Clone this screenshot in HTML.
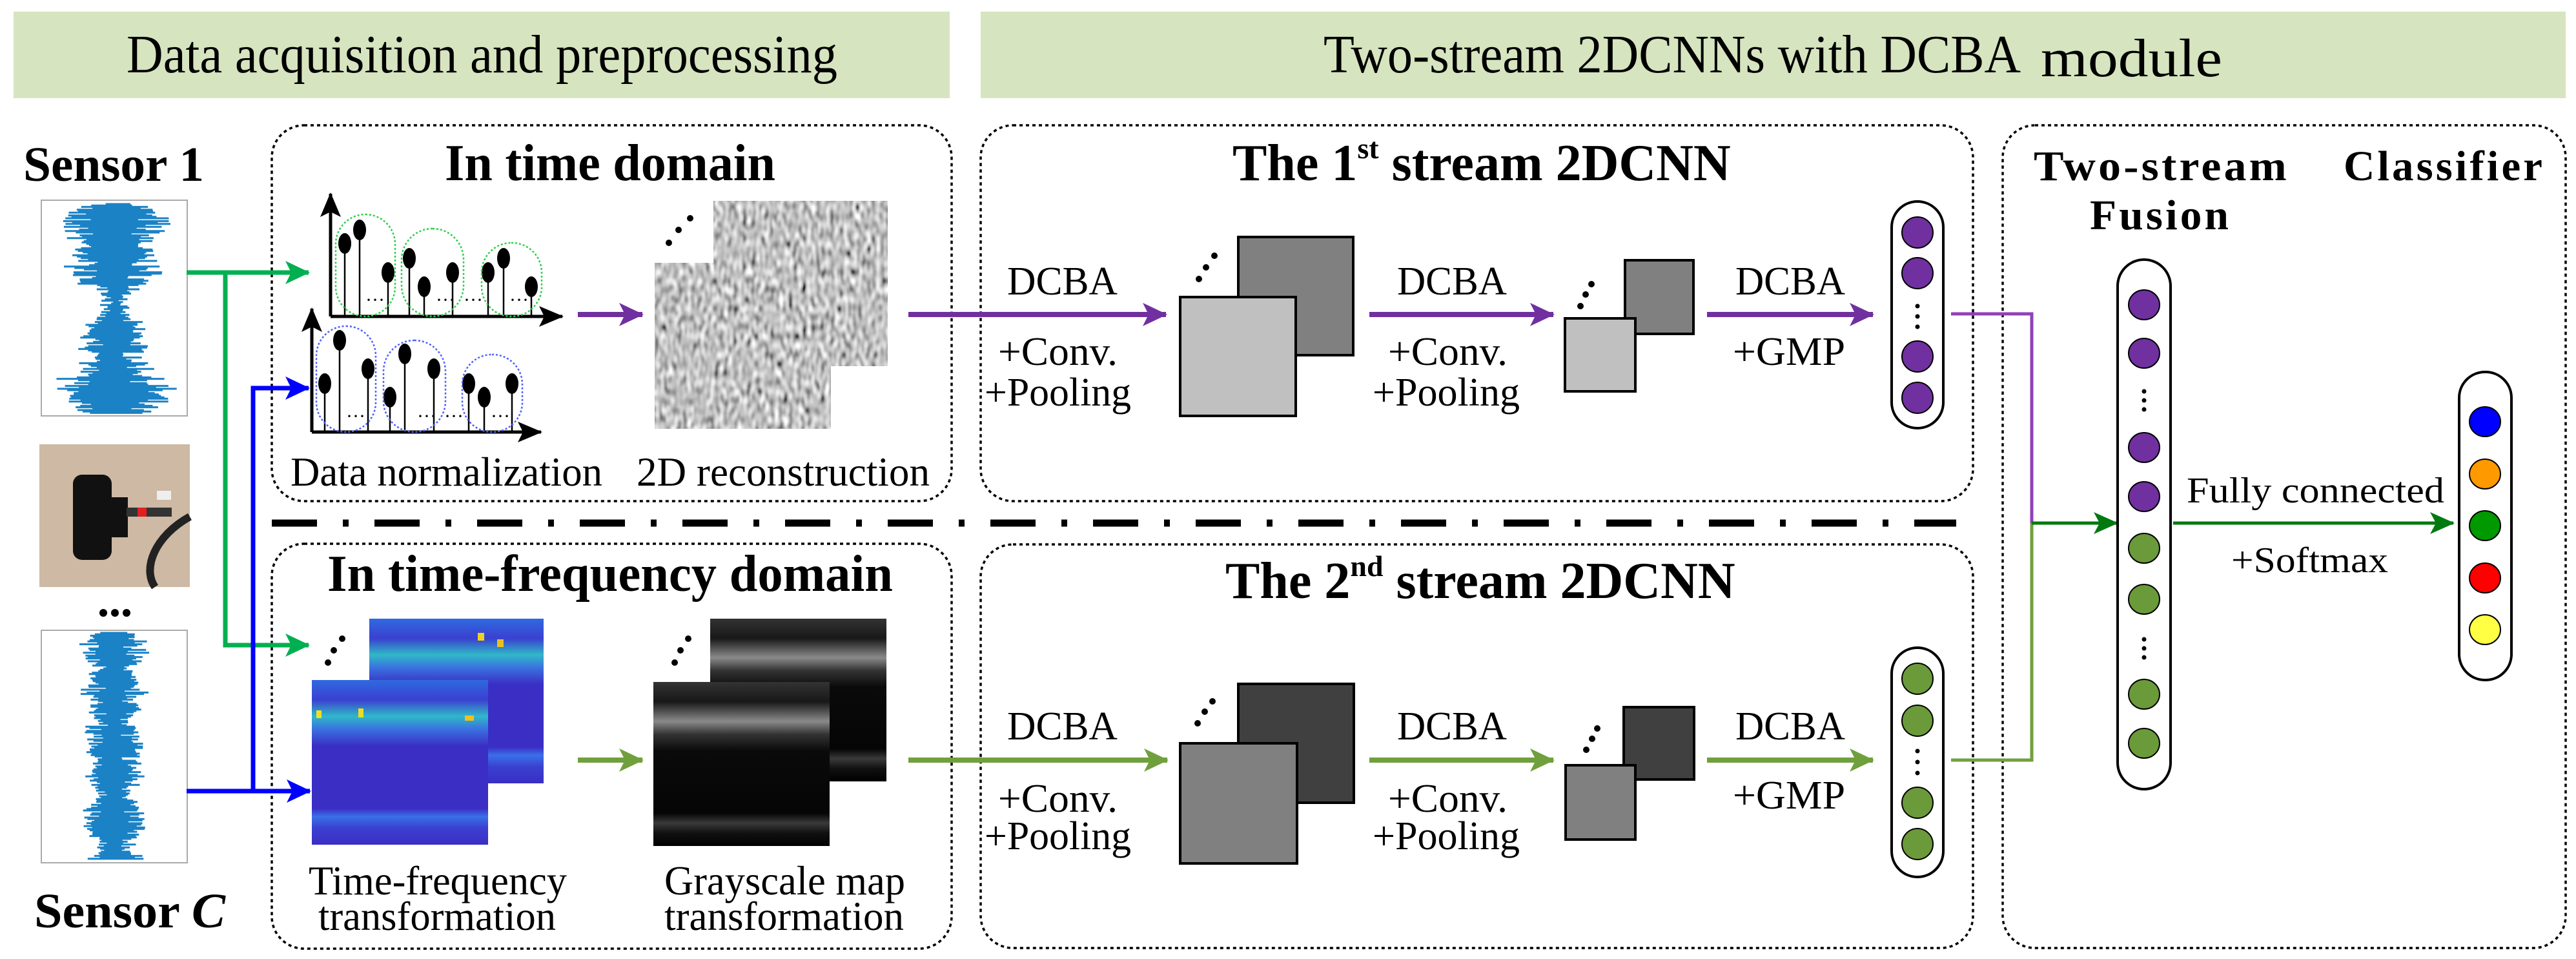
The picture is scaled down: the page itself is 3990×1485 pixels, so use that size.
<!DOCTYPE html>
<html><head><meta charset="utf-8"><style>
html,body{margin:0;padding:0;background:#fff;}
svg{display:block;font-family:"Liberation Serif","DejaVu Serif","Noto Serif CJK SC",serif;}
svg text{font-family:"Liberation Serif","DejaVu Serif","Noto Serif CJK SC",serif;fill:#000;}
.b{font-weight:bold;}
.w{font-weight:bold;letter-spacing:4px;}
</style></head><body>
<svg id="s" width="3990" height="1485" viewBox="0 0 3990 1485" xmlns="http://www.w3.org/2000/svg" font-family="Liberation Serif, DejaVu Serif, Noto Serif CJK SC, serif">
<defs>
<marker id="mg" markerUnits="userSpaceOnUse" markerWidth="40" markerHeight="40" refX="36" refY="20" orient="auto"><path d="M0,2 L38,20 L0,38 L9,20 Z" fill="#00b050"/></marker>
<marker id="mb" markerUnits="userSpaceOnUse" markerWidth="40" markerHeight="40" refX="36" refY="20" orient="auto"><path d="M0,2 L38,20 L0,38 L9,20 Z" fill="#0000ff"/></marker>
<marker id="mp" markerUnits="userSpaceOnUse" markerWidth="40" markerHeight="40" refX="36" refY="20" orient="auto"><path d="M0,2 L38,20 L0,38 L9,20 Z" fill="#7030a0"/></marker>
<marker id="mo" markerUnits="userSpaceOnUse" markerWidth="40" markerHeight="40" refX="36" refY="20" orient="auto"><path d="M0,2 L38,20 L0,38 L9,20 Z" fill="#70a03c"/></marker>
<marker id="md" markerUnits="userSpaceOnUse" markerWidth="40" markerHeight="40" refX="36" refY="20" orient="auto"><path d="M0,3 L38,20 L0,37 L9,20 Z" fill="#007a10"/></marker>
<marker id="mk" markerUnits="userSpaceOnUse" markerWidth="40" markerHeight="40" refX="36" refY="20" orient="auto"><path d="M0,4 L38,20 L0,36 L8,20 Z" fill="#000"/></marker>
<filter id="tex" x="0" y="0" width="1" height="1">
<feTurbulence type="fractalNoise" baseFrequency="0.14 0.07" numOctaves="1" seed="3"/>
<feColorMatrix type="matrix" values="0.33 0.33 0.33 0 0  0.33 0.33 0.33 0 0  0.33 0.33 0.33 0 0  0 0 0 0 1"/>
<feComponentTransfer><feFuncR type="linear" slope="2.4" intercept="-0.65"/><feFuncG type="linear" slope="2.4" intercept="-0.65"/><feFuncB type="linear" slope="2.4" intercept="-0.65"/></feComponentTransfer>
</filter>
<linearGradient id="hm" x1="0" y1="0" x2="0" y2="1">
<stop offset="0" stop-color="#2f6ae0"/><stop offset="0.12" stop-color="#3a40d0"/><stop offset="0.22" stop-color="#30b8c8"/><stop offset="0.3" stop-color="#3a70e0"/><stop offset="0.4" stop-color="#3a2ec4"/><stop offset="0.78" stop-color="#3a2ec4"/><stop offset="0.83" stop-color="#3a70e8"/><stop offset="0.9" stop-color="#3a40d0"/><stop offset="1" stop-color="#3a2ec4"/>
</linearGradient>
<linearGradient id="gm" x1="0" y1="0" x2="0" y2="1">
<stop offset="0" stop-color="#333"/><stop offset="0.12" stop-color="#181818"/><stop offset="0.24" stop-color="#8a8a8a"/><stop offset="0.32" stop-color="#333"/><stop offset="0.42" stop-color="#0a0a0a"/><stop offset="0.8" stop-color="#050505"/><stop offset="0.86" stop-color="#3a3a3a"/><stop offset="0.92" stop-color="#111"/><stop offset="1" stop-color="#000"/>
</linearGradient>
</defs>

<rect x="21" y="18" width="1450" height="134" fill="#d6e4bf"/>
<text x="196" y="112" font-size="84" textLength="1101" lengthAdjust="spacingAndGlyphs">Data acquisition and preprocessing</text>
<rect x="1519" y="18" width="2455" height="134" fill="#d6e4bf"/>
<text x="2050" y="112" font-size="84" textLength="1080" lengthAdjust="spacingAndGlyphs">Two-stream 2DCNNs with DCBA</text>
<text x="3161" y="118" font-size="84" textLength="281" lengthAdjust="spacingAndGlyphs">module</text>

<g fill="none" stroke="#000" stroke-width="3.5" stroke-dasharray="5,5">
<rect x="421" y="194" width="1053" height="582" rx="50"/>
<rect x="421" y="842" width="1053" height="627" rx="50"/>
<rect x="1519" y="194" width="1537" height="582" rx="50"/>
<rect x="1519" y="843" width="1537" height="625" rx="50"/>
<rect x="3102" y="194" width="872" height="1274" rx="50"/>
</g>
<line x1="421" y1="810" x2="3030" y2="810" stroke="#000" stroke-width="11" stroke-dasharray="70,40,9,40"/>

<text class="b" x="36" y="280" font-size="76" font-weight="bold" textLength="280" lengthAdjust="spacingAndGlyphs">Sensor 1</text>
<rect x="64" y="310" width="226" height="334" fill="#fff" stroke="#aaa" stroke-width="2"/>
<path id="w1" fill="none" stroke="#1b82c6" stroke-width="3"/>
<rect x="61" y="688" width="233" height="221" fill="#cdb9a4"/>
<rect x="113" y="735" width="60" height="132" rx="14" fill="#111"/>
<rect x="168" y="770" width="30" height="62" fill="#111"/>
<rect x="196" y="786" width="70" height="14" fill="#333"/>
<rect x="213" y="786" width="14" height="14" fill="#e02020"/>
<path d="M294,800 C240,830 220,880 240,909" fill="none" stroke="#222" stroke-width="12"/>
<rect x="243" y="760" width="22" height="14" fill="#eee"/>
<circle cx="160" cy="949" r="6"/><circle cx="178" cy="949" r="6"/><circle cx="196" cy="949" r="6"/>
<rect x="64" y="976" width="226" height="360" fill="#fff" stroke="#aaa" stroke-width="2"/>
<path id="w2" fill="none" stroke="#1b82c6" stroke-width="3"/>
<text class="b" x="53" y="1436" font-size="76" font-weight="bold" textLength="296" lengthAdjust="spacingAndGlyphs">Sensor <tspan font-style="italic">C</tspan></text>

<g fill="none" stroke-width="7">
<path d="M289,422 H478" stroke="#00b050" marker-end="url(#mg)"/>
<path d="M349,422 V999 H478" stroke="#00b050" marker-end="url(#mg)"/>
<path d="M289,1225 H480" stroke="#0000ff" marker-end="url(#mb)"/>
<path d="M392,1225 V601 H478" stroke="#0000ff" marker-end="url(#mb)"/>
</g>

<text class="b" x="689" y="279" font-size="80" font-weight="bold" textLength="512" lengthAdjust="spacingAndGlyphs">In time domain</text>
<g>
<line x1="512" y1="490" x2="512" y2="300" stroke="#000" stroke-width="5" marker-end="url(#mk)"/>
<line x1="512" y1="490" x2="871" y2="490" stroke="#000" stroke-width="5" marker-end="url(#mk)"/>
<g stroke="#000" stroke-width="2.5">
<line x1="534" y1="490" x2="534" y2="377"/><line x1="557" y1="490" x2="557" y2="356"/><line x1="601" y1="490" x2="601" y2="422"/>
<line x1="634" y1="490" x2="634" y2="400"/><line x1="657" y1="490" x2="657" y2="444"/><line x1="701" y1="490" x2="701" y2="422"/>
<line x1="756" y1="490" x2="756" y2="422"/><line x1="780" y1="490" x2="780" y2="400"/><line x1="823" y1="490" x2="823" y2="444"/>
</g>
<g fill="#000">
<ellipse cx="534" cy="377" rx="10" ry="16"/><ellipse cx="557" cy="356" rx="10" ry="16"/><ellipse cx="601" cy="422" rx="10" ry="16"/>
<ellipse cx="634" cy="400" rx="10" ry="16"/><ellipse cx="657" cy="444" rx="10" ry="16"/><ellipse cx="701" cy="422" rx="10" ry="16"/>
<ellipse cx="756" cy="422" rx="10" ry="16"/><ellipse cx="780" cy="400" rx="10" ry="16"/><ellipse cx="823" cy="444" rx="10" ry="16"/>
</g>
<g fill="none" stroke="#2bd04a" stroke-width="2.5" stroke-dasharray="3,3">
<rect x="520" y="332" width="92" height="158" rx="46"/><rect x="622" y="354" width="96" height="136" rx="48"/><rect x="746" y="376" width="93" height="114" rx="46"/>
</g>
<text x="566" y="474" font-size="30">···</text><text x="675" y="474" font-size="30">···</text><text x="718" y="474" font-size="30">···</text><text x="789" y="474" font-size="30">···</text>
</g>
<g>
<line x1="483" y1="669" x2="483" y2="478" stroke="#000" stroke-width="5" marker-end="url(#mk)"/>
<line x1="483" y1="669" x2="838" y2="669" stroke="#000" stroke-width="5" marker-end="url(#mk)"/>
<g stroke="#000" stroke-width="2.5">
<line x1="503" y1="669" x2="503" y2="594"/><line x1="526" y1="669" x2="526" y2="527"/><line x1="570" y1="669" x2="570" y2="571"/>
<line x1="604" y1="669" x2="604" y2="615"/><line x1="627" y1="669" x2="627" y2="548"/><line x1="672" y1="669" x2="672" y2="571"/>
<line x1="726" y1="669" x2="726" y2="594"/><line x1="750" y1="669" x2="750" y2="615"/><line x1="793" y1="669" x2="793" y2="594"/>
</g>
<g fill="#000">
<ellipse cx="503" cy="594" rx="10" ry="16"/><ellipse cx="526" cy="527" rx="10" ry="16"/><ellipse cx="570" cy="571" rx="10" ry="16"/>
<ellipse cx="604" cy="615" rx="10" ry="16"/><ellipse cx="627" cy="548" rx="10" ry="16"/><ellipse cx="672" cy="571" rx="10" ry="16"/>
<ellipse cx="726" cy="594" rx="10" ry="16"/><ellipse cx="750" cy="615" rx="10" ry="16"/><ellipse cx="793" cy="594" rx="10" ry="16"/>
</g>
<g fill="none" stroke="#5060ff" stroke-width="2.5" stroke-dasharray="3,3">
<rect x="490" y="505" width="92" height="164" rx="46"/><rect x="594" y="527" width="96" height="142" rx="48"/><rect x="716" y="549" width="93" height="120" rx="46"/>
</g>
<text x="536" y="654" font-size="30">···</text><text x="646" y="654" font-size="30">···</text><text x="688" y="654" font-size="30">···</text><text x="760" y="654" font-size="30">···</text>
</g>
<line x1="895" y1="487" x2="995" y2="487" stroke="#7030a0" stroke-width="8" marker-end="url(#mp)"/>
<rect x="1105" y="311" width="270" height="256" fill="#888" filter="url(#tex)"/>
<rect x="1014" y="407" width="273" height="257" fill="#888" filter="url(#tex)"/>
<circle cx="1036" cy="376" r="5"/><circle cx="1051" cy="356" r="5"/><circle cx="1069" cy="338" r="5"/>
<text x="450" y="752" font-size="64" textLength="483" lengthAdjust="spacingAndGlyphs">Data normalization</text>
<text x="986" y="752" font-size="64" textLength="454" lengthAdjust="spacingAndGlyphs">2D reconstruction</text>

<text class="b" x="507" y="915" font-size="80" font-weight="bold" textLength="876" lengthAdjust="spacingAndGlyphs">In time-frequency domain</text>
<rect x="572" y="958" width="270" height="255" fill="url(#hm)"/>
<rect x="483" y="1053" width="273" height="255" fill="url(#hm)"/>
<rect x="490" y="1100" width="8" height="12" fill="#f0e020"/><rect x="555" y="1097" width="8" height="14" fill="#e8e020"/><rect x="720" y="1108" width="14" height="8" fill="#f0c020"/>
<rect x="740" y="980" width="10" height="12" fill="#f0d020"/><rect x="770" y="990" width="10" height="12" fill="#e8c020"/>
<circle cx="508" cy="1026" r="5"/><circle cx="517" cy="1007" r="5"/><circle cx="530" cy="989" r="5"/>
<line x1="895" y1="1177" x2="995" y2="1177" stroke="#70a03c" stroke-width="8" marker-end="url(#mo)"/>
<rect x="1100" y="958" width="273" height="252" fill="url(#gm)"/>
<rect x="1012" y="1056" width="273" height="254" fill="url(#gm)"/>
<circle cx="1045" cy="1026" r="5"/><circle cx="1054" cy="1007" r="5"/><circle cx="1066" cy="989" r="5"/>
<text x="478" y="1385" font-size="64" textLength="400" lengthAdjust="spacingAndGlyphs">Time-frequency</text>
<text x="493" y="1440" font-size="64" textLength="368" lengthAdjust="spacingAndGlyphs">transformation</text>
<text x="1029" y="1385" font-size="64" textLength="373" lengthAdjust="spacingAndGlyphs">Grayscale map</text>
<text x="1029" y="1440" font-size="64" textLength="371" lengthAdjust="spacingAndGlyphs">transformation</text>

<text class="b" x="1909" y="279" font-size="80" font-weight="bold">The 1<tspan font-size="46" dy="-34">st</tspan><tspan dy="34"> stream 2DCNN</tspan></text>
<g stroke="#7030a0" stroke-width="8" marker-end="url(#mp)">
<line x1="1407" y1="487" x2="1806" y2="487"/><line x1="2121" y1="487" x2="2406" y2="487"/><line x1="2644" y1="487" x2="2901" y2="487"/>
</g>
<g font-size="62">
<text x="1560" y="456" textLength="171" lengthAdjust="spacingAndGlyphs">DCBA</text>
<text x="1546" y="565" textLength="185" lengthAdjust="spacingAndGlyphs">+Conv.</text>
<text x="1525" y="628" textLength="227" lengthAdjust="spacingAndGlyphs">+Pooling</text>
<text x="2164" y="456" textLength="170" lengthAdjust="spacingAndGlyphs">DCBA</text>
<text x="2150" y="565" textLength="185" lengthAdjust="spacingAndGlyphs">+Conv.</text>
<text x="2126" y="628" textLength="228" lengthAdjust="spacingAndGlyphs">+Pooling</text>
<text x="2688" y="456" textLength="170" lengthAdjust="spacingAndGlyphs">DCBA</text>
<text x="2684" y="565" textLength="174" lengthAdjust="spacingAndGlyphs">+GMP</text>
</g>
<g stroke="#000" stroke-width="4">
<rect x="1918" y="367" width="178" height="183" fill="#808080"/>
<rect x="1828" y="460" width="179" height="184" fill="#c0c0c0"/>
<rect x="2517" y="403" width="106" height="114" fill="#808080"/>
<rect x="2424" y="493" width="109" height="113" fill="#c0c0c0"/>
</g>
<circle cx="1857" cy="432" r="5"/><circle cx="1868" cy="414" r="5"/><circle cx="1881" cy="396" r="5"/>
<circle cx="2448" cy="474" r="5"/><circle cx="2456" cy="456" r="5"/><circle cx="2465" cy="440" r="5"/>

<text class="b" x="1898" y="926" font-size="80" font-weight="bold">The 2<tspan font-size="46" dy="-34">nd</tspan><tspan dy="34"> stream 2DCNN</tspan></text>
<g stroke="#70a03c" stroke-width="8" marker-end="url(#mo)">
<line x1="1407" y1="1177" x2="1808" y2="1177"/><line x1="2121" y1="1177" x2="2406" y2="1177"/><line x1="2644" y1="1177" x2="2901" y2="1177"/>
</g>
<g font-size="62">
<text x="1560" y="1145" textLength="171" lengthAdjust="spacingAndGlyphs">DCBA</text>
<text x="1546" y="1257" textLength="185" lengthAdjust="spacingAndGlyphs">+Conv.</text>
<text x="1525" y="1315" textLength="227" lengthAdjust="spacingAndGlyphs">+Pooling</text>
<text x="2164" y="1145" textLength="170" lengthAdjust="spacingAndGlyphs">DCBA</text>
<text x="2150" y="1257" textLength="185" lengthAdjust="spacingAndGlyphs">+Conv.</text>
<text x="2126" y="1315" textLength="228" lengthAdjust="spacingAndGlyphs">+Pooling</text>
<text x="2688" y="1145" textLength="170" lengthAdjust="spacingAndGlyphs">DCBA</text>
<text x="2684" y="1252" textLength="174" lengthAdjust="spacingAndGlyphs">+GMP</text>
</g>
<g stroke="#000" stroke-width="4">
<rect x="1918" y="1059" width="179" height="184" fill="#404040"/>
<rect x="1828" y="1151" width="181" height="186" fill="#808080"/>
<rect x="2515" y="1095" width="109" height="112" fill="#404040"/>
<rect x="2425" y="1185" width="108" height="115" fill="#808080"/>
</g>
<circle cx="1855" cy="1120" r="5"/><circle cx="1866" cy="1102" r="5"/><circle cx="1878" cy="1086" r="5"/>
<circle cx="2457" cy="1161" r="5"/><circle cx="2466" cy="1144" r="5"/><circle cx="2474" cy="1128" r="5"/>

<g stroke="#000" stroke-width="4">
<rect x="2930" y="312" width="80" height="351" rx="40" fill="#fff"/>
<rect x="2930" y="1003" width="80" height="355" rx="40" fill="#fff"/>
<g fill="#7030a0" stroke-width="2"><ellipse cx="2970" cy="360" rx="24" ry="24"/><ellipse cx="2970" cy="423" rx="24" ry="24"/><ellipse cx="2970" cy="552" rx="24" ry="24"/><ellipse cx="2970" cy="616" rx="24" ry="24"/></g>
<g fill="#6b9a3a" stroke-width="2"><ellipse cx="2970" cy="1051" rx="24" ry="24"/><ellipse cx="2970" cy="1116" rx="24" ry="24"/><ellipse cx="2970" cy="1243" rx="24" ry="24"/><ellipse cx="2970" cy="1307" rx="24" ry="24"/></g>
</g>
<g fill="#000"><circle cx="2970" cy="474" r="3.5"/><circle cx="2970" cy="490" r="3.5"/><circle cx="2970" cy="506" r="3.5"/>
<circle cx="2970" cy="1163" r="3.5"/><circle cx="2970" cy="1180" r="3.5"/><circle cx="2970" cy="1197" r="3.5"/></g>

<path d="M3022,486 H3147 V810" fill="none" stroke="#9040b8" stroke-width="5"/>
<path d="M3022,1177 H3147 V810" fill="none" stroke="#70a03c" stroke-width="5"/>
<line x1="3147" y1="810" x2="3279" y2="810" stroke="#007a10" stroke-width="5" marker-end="url(#md)"/>

<text class="w" x="3150" y="279" font-size="66" font-weight="bold" textLength="396" lengthAdjust="spacingAndGlyphs">Two-stream</text>
<text class="w" x="3237" y="355" font-size="66" font-weight="bold" textLength="219" lengthAdjust="spacingAndGlyphs">Fusion</text>
<text class="w" x="3630" y="279" font-size="66" font-weight="bold" textLength="312" lengthAdjust="spacingAndGlyphs">Classifier</text>
<g stroke="#000" stroke-width="4">
<rect x="3280" y="402" width="82" height="820" rx="41" fill="#fff"/>
<g fill="#7030a0" stroke-width="2"><ellipse cx="3321" cy="472" rx="24" ry="23"/><ellipse cx="3321" cy="547" rx="24" ry="23"/><ellipse cx="3321" cy="693" rx="24" ry="23"/><ellipse cx="3321" cy="769" rx="24" ry="23"/></g>
<g fill="#6b9a3a" stroke-width="2"><ellipse cx="3321" cy="849" rx="24" ry="23"/><ellipse cx="3321" cy="928" rx="24" ry="23"/><ellipse cx="3321" cy="1075" rx="24" ry="23"/><ellipse cx="3321" cy="1151" rx="24" ry="23"/></g>
</g>
<g fill="#000"><circle cx="3321" cy="606" r="3.5"/><circle cx="3321" cy="620" r="3.5"/><circle cx="3321" cy="634" r="3.5"/>
<circle cx="3321" cy="990" r="3.5"/><circle cx="3321" cy="1004" r="3.5"/><circle cx="3321" cy="1018" r="3.5"/></g>
<line x1="3366" y1="810" x2="3800" y2="810" stroke="#007a10" stroke-width="5" marker-end="url(#md)"/>
<text x="3387" y="778" font-size="56" textLength="399" lengthAdjust="spacingAndGlyphs">Fully connected</text>
<text x="3456" y="886" font-size="56" textLength="243" lengthAdjust="spacingAndGlyphs">+Softmax</text>
<g stroke="#000" stroke-width="4">
<rect x="3809" y="576" width="81" height="477" rx="40" fill="#fff"/>
<g stroke-width="2">
<ellipse cx="3849" cy="653" rx="24" ry="23" fill="#0000ff"/>
<ellipse cx="3849" cy="734" rx="24" ry="23" fill="#ff9900"/>
<ellipse cx="3849" cy="814" rx="24" ry="23" fill="#009900"/>
<ellipse cx="3849" cy="895" rx="24" ry="23" fill="#ff0000"/>
<ellipse cx="3849" cy="975" rx="24" ry="23" fill="#ffff44"/>
</g>
</g>
</svg>
<script>
(function(){
var seed=7;function r(){seed=(seed*16807)%2147483647;return seed/2147483647;}
function wave(id,x,y0,y1,env){
  var d="",cx=x;
  for(var y=y0;y<=y1;y+=2.2){
    var t=(y-y0)/(y1-y0);var a=env(t)*(0.35+0.65*r());
    var c=cx+(r()-0.5)*14;
    d+="M"+(c-a).toFixed(1)+","+y.toFixed(1)+"H"+(c+a).toFixed(1);
  }
  document.getElementById(id).setAttribute("d",d);
}
wave("w1",177,316,640,function(t){return 55+25*Math.sin(t*9)+15*Math.sin(t*23);});
wave("w2",177,980,1332,function(t){return 30+20*Math.abs(Math.sin(t*14))+10*Math.sin(t*31);});
})();
</script>
</body></html>
